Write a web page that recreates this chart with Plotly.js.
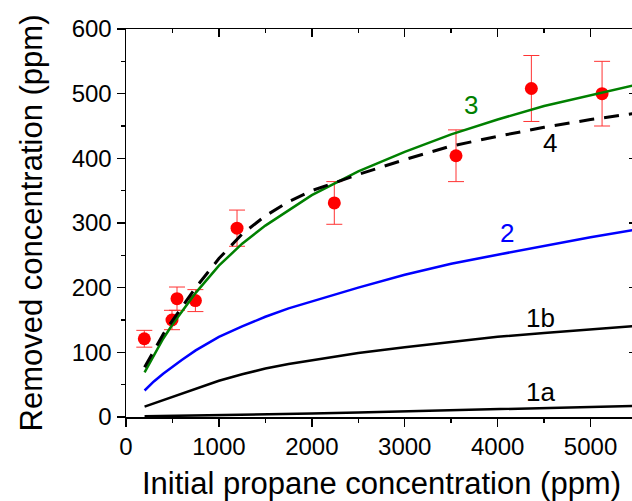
<!DOCTYPE html>
<html>
<head>
<meta charset="utf-8">
<script src="https://cdn.plot.ly/plotly-3.0.1.min.js"></script>
<style>
html,body{margin:0;padding:0;overflow:hidden;background:#fff;}
#chart{width:650px;height:501px;}
</style>
</head>
<body>
<div id="chart"></div>
<script>
// Measured points with error bars
var pointX = [197, 495, 549, 747, 1195, 2242, 3552, 4363, 5124];
var pointY = [121, 150, 183, 180, 292, 331, 404, 508, 500];
var pointErr = [13, 15, 18, 17, 28, 33, 40, 51, 50];

// Model curves
var curveX = [200, 300, 400, 500, 600, 750, 1000, 1250, 1500, 1750, 2000, 2500, 3000, 3500, 4000, 4500, 5000, 5500];
var curve1a = [1, 1.2, 1.4, 1.6, 1.8, 2.1, 2.6, 3.3, 4, 4.8, 5.5, 7, 8.7, 10.3, 12, 13.7, 15.5, 17.3];
var curve1b = [16, 21, 27, 32, 37, 44, 56, 66, 75, 82, 88, 99, 108, 116, 124, 130, 136, 141];
var curve2 = [41, 55, 67, 78, 88, 103, 124, 140, 155, 168, 179, 200, 220, 237, 251, 265, 278, 290];
var curve3 = [69, 96, 121, 143, 163, 192, 234, 268, 296, 320, 343, 380, 410, 437, 460, 481, 498, 514];
var curve4 = [77, 103, 128, 149, 170, 200, 245, 283, 311, 333, 350, 375, 398, 419, 434, 448, 460, 470];

// Tick labels
var xTickVals = [0, 1000, 2000, 3000, 4000, 5000];
var yTickVals = [0, 100, 200, 300, 400, 500, 600];

// Curve labels
var labelText = ['1a', '1b', '2', '3', '4'];
var labelX = [4456, 4456, 4101, 3714, 4564];
var labelY = [39, 153, 285, 482, 423];
var labelColor = ['#000000', '#000000', '#0000ff', '#008000', '#000000'];

var FONT = 'Liberation Sans, Arial, sans-serif';

function curve(y, color, width, dash) {
  var ln = {color: color, width: width};
  if (dash) ln.dash = dash;
  return {x: curveX, y: y, xaxis: 'x2', yaxis: 'y2', type: 'scatter', mode: 'lines', line: ln};
}

var traces = [
  {
    x: pointX, y: pointY, type: 'scatter', mode: 'markers',
    marker: {color: '#ff0000', size: 13},
    error_y: {type: 'data', array: pointErr, visible: true, color: '#ff3333', thickness: 1, width: 8}
  },
  curve(curve1a, '#000000', 2.5),
  curve(curve1b, '#000000', 2.5),
  curve(curve2, '#0000ff', 2.5),
  curve(curve3, '#008000', 2.5),
  curve(curve4, '#000000', 3, '15px,10px')
];

var annotations = labelText.map(function (t, i) {
  return {x: labelX[i], y: labelY[i], xref: 'x', yref: 'y', text: t, showarrow: false,
    font: {family: FONT, size: 26, color: labelColor[i]}, xanchor: 'center', yanchor: 'middle'};
});

var layout = {
  width: 650, height: 501,
  margin: {l: 126, r: 13, t: 29, b: 84},
  showlegend: false,
  font: {family: FONT, size: 24, color: '#000'},
  xaxis: {
    range: [0, 5500], tickmode: 'array', tickvals: xTickVals,
    showgrid: false, zeroline: false, showline: true, mirror: true, linecolor: '#000', linewidth: 1.5,
    ticks: 'outside', ticklen: 8, tickwidth: 1.5, tickcolor: '#000',
    minor: {tickmode: 'linear', tick0: 0, dtick: 500, ticks: 'outside', ticklen: 4, tickwidth: 1.5, tickcolor: '#000'},
    tickfont: {family: FONT, size: 24, color: '#000'},
    title: {text: 'Initial propane concentration (ppm)', font: {family: FONT, size: 31, color: '#000'}, standoff: 15}
  },
  yaxis: {
    range: [0, 600], tickmode: 'array', tickvals: yTickVals,
    showgrid: false, zeroline: false, showline: true, mirror: true, linecolor: '#000', linewidth: 1.5,
    ticks: 'outside', ticklen: 8, tickwidth: 1.5, tickcolor: '#000',
    minor: {tickmode: 'linear', tick0: 0, dtick: 50, ticks: 'outside', ticklen: 4, tickwidth: 1.5, tickcolor: '#000'},
    tickfont: {family: FONT, size: 24, color: '#000'},
    title: {text: 'Removed concentration (ppm)', font: {family: FONT, size: 31, color: '#000'}, standoff: 20}
  },
  xaxis2: {
    overlaying: 'x', side: 'top', anchor: 'y', range: [0, 5500], tickmode: 'linear', tick0: 0, dtick: 1000,
    showgrid: false, zeroline: false, showline: true, linecolor: '#000', linewidth: 1.5,
    ticks: 'inside', ticklen: 8, tickwidth: 1.5, tickcolor: '#000', showticklabels: false,
    minor: {ticks: 'inside', dtick: 500, ticklen: 4}
  },
  yaxis2: {
    overlaying: 'y', side: 'right', anchor: 'x', range: [0, 600], tickmode: 'linear', tick0: 0, dtick: 100,
    showgrid: false, zeroline: false, showline: true, linecolor: '#000', linewidth: 1.5,
    ticks: 'inside', ticklen: 8, tickwidth: 1.5, tickcolor: '#000', showticklabels: false,
    minor: {ticks: 'inside', dtick: 50, ticklen: 4}
  },
  annotations: annotations
};

Plotly.newPlot('chart', traces, layout, {staticPlot: true});
</script>
</body>
</html>
